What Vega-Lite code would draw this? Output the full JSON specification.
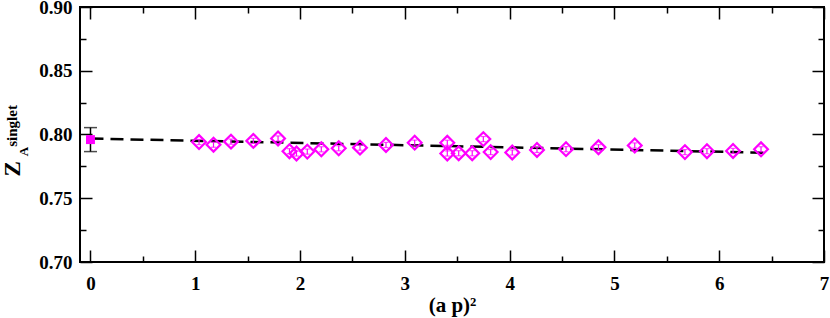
{
  "$schema": "https://vega.github.io/schema/vega-lite/v6.json",
  "width": 744,
  "height": 255,
  "autosize": {"type": "none"},
  "padding": {"left": 80, "top": 7, "right": 6, "bottom": 56},
  "background": "white",
  "config": {
    "view": {"stroke": "black", "strokeWidth": 2},
    "axis": {
      "domain": false,
      "grid": false,
      "tickColor": "black",
      "tickWidth": 1.5,
      "labelFont": "Liberation Serif",
      "labelFontWeight": "bold",
      "labelFontSize": 19,
      "labelColor": "black",
      "labelFlush": false,
      "labelOverlap": false,
      "labelBound": false,
      "titleFont": "Liberation Serif",
      "titleFontWeight": "bold",
      "titleColor": "black"
    }
  },
  "datasets": {
    "pts": [
      {"ap2": 1.036, "z": 0.7941, "err": 0.002},
      {"ap2": 1.174, "z": 0.7920, "err": 0.002},
      {"ap2": 1.341, "z": 0.7944, "err": 0.002},
      {"ap2": 1.554, "z": 0.7950, "err": 0.002},
      {"ap2": 1.790, "z": 0.7969, "err": 0.002},
      {"ap2": 1.899, "z": 0.7869, "err": 0.002},
      {"ap2": 1.966, "z": 0.7851, "err": 0.002},
      {"ap2": 2.069, "z": 0.7866, "err": 0.002},
      {"ap2": 2.203, "z": 0.7884, "err": 0.002},
      {"ap2": 2.369, "z": 0.7892, "err": 0.002},
      {"ap2": 2.572, "z": 0.7897, "err": 0.002},
      {"ap2": 2.820, "z": 0.7918, "err": 0.002},
      {"ap2": 3.094, "z": 0.7936, "err": 0.002},
      {"ap2": 3.405, "z": 0.7935, "err": 0.002},
      {"ap2": 3.405, "z": 0.7851, "err": 0.002},
      {"ap2": 3.514, "z": 0.7853, "err": 0.002},
      {"ap2": 3.643, "z": 0.7853, "err": 0.002},
      {"ap2": 3.749, "z": 0.7964, "err": 0.002},
      {"ap2": 3.819, "z": 0.7862, "err": 0.002},
      {"ap2": 4.025, "z": 0.7859, "err": 0.002},
      {"ap2": 4.261, "z": 0.7879, "err": 0.002},
      {"ap2": 4.538, "z": 0.7885, "err": 0.002},
      {"ap2": 4.848, "z": 0.7900, "err": 0.002},
      {"ap2": 5.194, "z": 0.7914, "err": 0.002},
      {"ap2": 5.673, "z": 0.7862, "err": 0.002},
      {"ap2": 5.883, "z": 0.7869, "err": 0.002},
      {"ap2": 6.132, "z": 0.7871, "err": 0.002},
      {"ap2": 6.399, "z": 0.7884, "err": 0.002}
    ],
    "fit": [
      {"ap2": 0.0, "z": 0.7968},
      {"ap2": 6.45, "z": 0.7857}
    ],
    "extrap": [
      {"ap2": 0.0, "z": 0.7960, "err": 0.0094}
    ]
  },
  "resolve": {"axis": {"x": "independent", "y": "independent"}},
  "layer": [
    {
      "data": {"name": "fit"},
      "mark": {"type": "line", "color": "black", "strokeWidth": 2.5, "strokeDash": [13, 7]},
      "encoding": {
        "x": {"field": "ap2", "type": "quantitative",
              "scale": {"domain": [-0.1, 7], "nice": false, "zero": false},
              "axis": {"orient": "bottom", "values": [0, 1, 2, 3, 4, 5, 6, 7], "tickSize": -12, "labelPadding": 24,
                       "title": "(a p)²", "titleFontSize": 21, "titlePadding": 1}},
        "y": {"field": "z", "type": "quantitative",
              "scale": {"domain": [0.7, 0.9], "nice": false, "zero": false},
              "axis": {"orient": "left", "values": [0.7, 0.75, 0.8, 0.85, 0.9], "format": ".2f", "tickSize": -12, "labelPadding": 20, "title": null}}
      }
    },
    {
      "data": {"name": "pts"},
      "mark": {"type": "point", "shape": "diamond", "filled": false, "color": "#FF00FF", "strokeWidth": 2.2, "size": 190, "opacity": 1},
      "encoding": {
        "x": {"field": "ap2", "type": "quantitative",
              "scale": {"domain": [-0.1, 7], "nice": false, "zero": false},
              "axis": {"orient": "bottom", "values": [0.5, 1.5, 2.5, 3.5, 4.5, 5.5, 6.5], "tickSize": -6, "labels": false, "title": null}},
        "y": {"field": "z", "type": "quantitative",
              "scale": {"domain": [0.7, 0.9], "nice": false, "zero": false},
              "axis": {"orient": "left", "values": [0.725, 0.775, 0.825, 0.875], "tickSize": -6, "labels": false, "title": null}}
      }
    },
    {
      "data": {"name": "pts"},
      "mark": {"type": "errorbar", "color": "#FF00FF", "thickness": 1.2, "ticks": {"size": 5}},
      "encoding": {
        "x": {"field": "ap2", "type": "quantitative", "scale": {"domain": [-0.1, 7], "nice": false, "zero": false}, "axis": null},
        "y": {"field": "z", "type": "quantitative", "scale": {"domain": [0.7, 0.9], "nice": false, "zero": false}, "axis": null},
        "yError": {"field": "err"}
      }
    },
    {
      "data": {"name": "extrap"},
      "mark": {"type": "errorbar", "color": "black", "thickness": 1.5, "ticks": {"size": 13}},
      "encoding": {
        "x": {"field": "ap2", "type": "quantitative", "scale": {"domain": [-0.1, 7], "nice": false, "zero": false}, "axis": null},
        "y": {"field": "z", "type": "quantitative", "scale": {"domain": [0.7, 0.9], "nice": false, "zero": false}, "axis": null},
        "yError": {"field": "err"}
      }
    },
    {
      "data": {"name": "extrap"},
      "mark": {"type": "point", "shape": "square", "filled": true, "color": "#FF00FF", "size": 80, "opacity": 1},
      "encoding": {
        "x": {"field": "ap2", "type": "quantitative",
              "scale": {"domain": [-0.1, 7], "nice": false, "zero": false},
              "axis": {"orient": "top", "values": [0, 1, 2, 3, 4, 5, 6, 7], "tickSize": -12, "labels": false, "title": null}},
        "y": {"field": "z", "type": "quantitative",
              "scale": {"domain": [0.7, 0.9], "nice": false, "zero": false},
              "axis": {"orient": "right", "values": [0.7, 0.75, 0.8, 0.85, 0.9], "tickSize": -12, "labels": false, "title": null}}
      }
    },
    {
      "data": {"name": "extrap"},
      "mark": {"type": "text", "text": "Z", "angle": 270, "align": "center", "baseline": "middle", "font": "Liberation Serif", "fontWeight": "bold", "fontSize": 23, "color": "black"},
      "encoding": {
        "x": {"datum": -0.744, "type": "quantitative",
              "scale": {"domain": [-0.1, 7], "nice": false, "zero": false},
              "axis": {"orient": "top", "values": [0.5, 1.5, 2.5, 3.5, 4.5, 5.5, 6.5], "tickSize": -6, "labels": false, "title": null}},
        "y": {"datum": 0.773, "type": "quantitative",
              "scale": {"domain": [0.7, 0.9], "nice": false, "zero": false},
              "axis": {"orient": "right", "values": [0.725, 0.775, 0.825, 0.875], "tickSize": -6, "labels": false, "title": null}}
      }
    },
    {
      "data": {"name": "extrap"},
      "mark": {"type": "text", "text": "A", "angle": 270, "align": "center", "baseline": "middle", "font": "Liberation Serif", "fontWeight": "bold", "fontSize": 13, "color": "black"},
      "encoding": {
        "x": {"datum": -0.63, "type": "quantitative", "scale": {"domain": [-0.1, 7], "nice": false, "zero": false}, "axis": null},
        "y": {"datum": 0.7867, "type": "quantitative", "scale": {"domain": [0.7, 0.9], "nice": false, "zero": false}, "axis": null}
      }
    },
    {
      "data": {"name": "extrap"},
      "mark": {"type": "text", "text": "singlet", "angle": 270, "align": "center", "baseline": "middle", "font": "Liberation Serif", "fontWeight": "bold", "fontSize": 15, "color": "black"},
      "encoding": {
        "x": {"datum": -0.749, "type": "quantitative", "scale": {"domain": [-0.1, 7], "nice": false, "zero": false}, "axis": null},
        "y": {"datum": 0.8067, "type": "quantitative", "scale": {"domain": [0.7, 0.9], "nice": false, "zero": false}, "axis": null}
      }
    }
  ]
}
